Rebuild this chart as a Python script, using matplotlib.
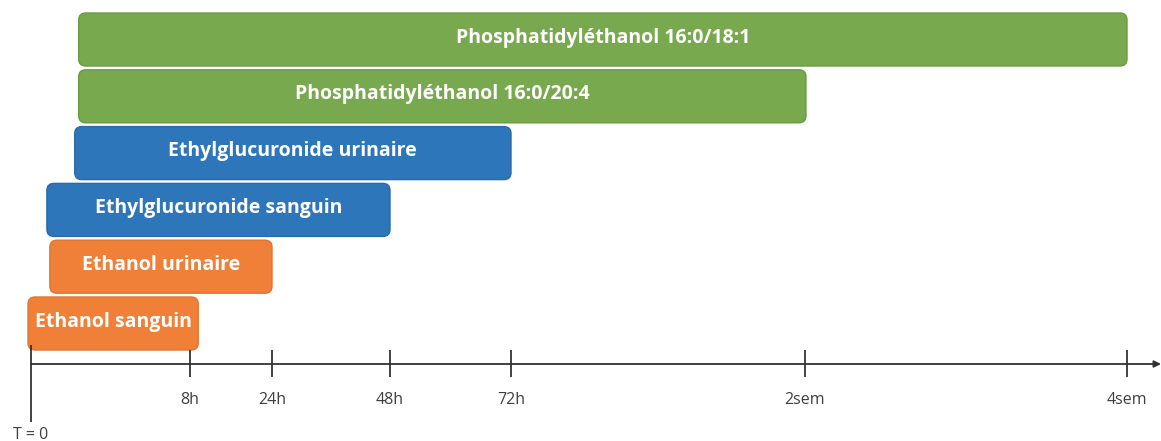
import numpy as np
import matplotlib
matplotlib.use("Agg")
import matplotlib.pyplot as plt
from matplotlib.patches import FancyBboxPatch

plt.rcParams["font.family"] = ["Open Sans", "DejaVu Sans"]

# marqueurs et fenêtres de détection (en heures)
labels = ["Phosphatidyléthanol 16:0/18:1",
          "Phosphatidyléthanol 16:0/20:4",
          "Ethylglucuronide urinaire",
          "Ethylglucuronide sanguin",
          "Ethanol urinaire",
          "Ethanol sanguin"]
start_h = [2.4, 2.4, 2.2, 0.8, 0.95, -0.15]
end_h = [672, 337, 72, 48, 24, 9.6]
colors = ["#78A94F", "#78A94F", "#2E76BA", "#2E76BA", "#F07F37", "#F07F37"]
edges = ["#6A9A44", "#6A9A44", "#2A6AA8", "#2A6AA8", "#E07430", "#E07430"]

tick_h = [8, 24, 48, 72, 336, 672]
tick_labels = ["8h", "24h", "48h", "72h", "2sem", "4sem"]

# échelle non linéaire : heures -> position sur la frise
knot_h = np.array([-1.56, 0, 8, 24, 48, 72, 336, 672, 708])
knot_p = np.array([0, 31, 190, 272, 390, 511, 805, 1127, 1161])


def forward(h):
    return np.interp(h, knot_h, knot_p)


def inverse(p):
    return np.interp(p, knot_p, knot_h)


fig = plt.figure(figsize=(11.61, 4.41), dpi=100)
ax = fig.add_axes([0, 0, 1, 1])
ax.set_xscale("function", functions=(forward, inverse))
ax.set_xlim(knot_h[0], knot_h[-1])
ax.set_ylim(441, 0)
ax.axis("off")

scale = ax.xaxis.get_transform()
lin = ax.transLimits + ax.transAxes

row_y = 39.5 + 56.8 * np.arange(len(labels))
bar_h = 53
for i, lab in enumerate(labels):
    x0, x1 = scale.transform(np.array([start_h[i], end_h[i]]))
    box = FancyBboxPatch((x0, row_y[i] - bar_h / 2), x1 - x0, bar_h,
                         boxstyle="round,pad=0,rounding_size=7",
                         facecolor=colors[i], edgecolor=edges[i], linewidth=1,
                         transform=lin)
    ax.add_patch(box)
    ax.text((x0 + x1) / 2, row_y[i] - 2, lab, transform=lin,
            ha="center", va="center", color="white",
            fontsize=14, fontweight="bold")

# frise chronologique
axis_y = 364
ax.annotate("", xy=(knot_h[-1], axis_y), xytext=(0, axis_y),
            arrowprops=dict(arrowstyle="-|>", color="#333333", lw=1.3,
                            mutation_scale=10, shrinkA=0, shrinkB=0))
ax.vlines(tick_h, axis_y - 14, axis_y + 13, color="#333333", lw=1.3)
ax.vlines([0], axis_y - 19, axis_y + 58, color="#333333", lw=1.3)
for h, t in zip(tick_h, tick_labels):
    ax.text(h, 400, t, ha="center", va="center", fontsize=11.5, color="#404040")
ax.text(0, 435, "T = 0", ha="center", va="center", fontsize=11.5, color="#404040")

fig.savefig("out.png", dpi=100)
